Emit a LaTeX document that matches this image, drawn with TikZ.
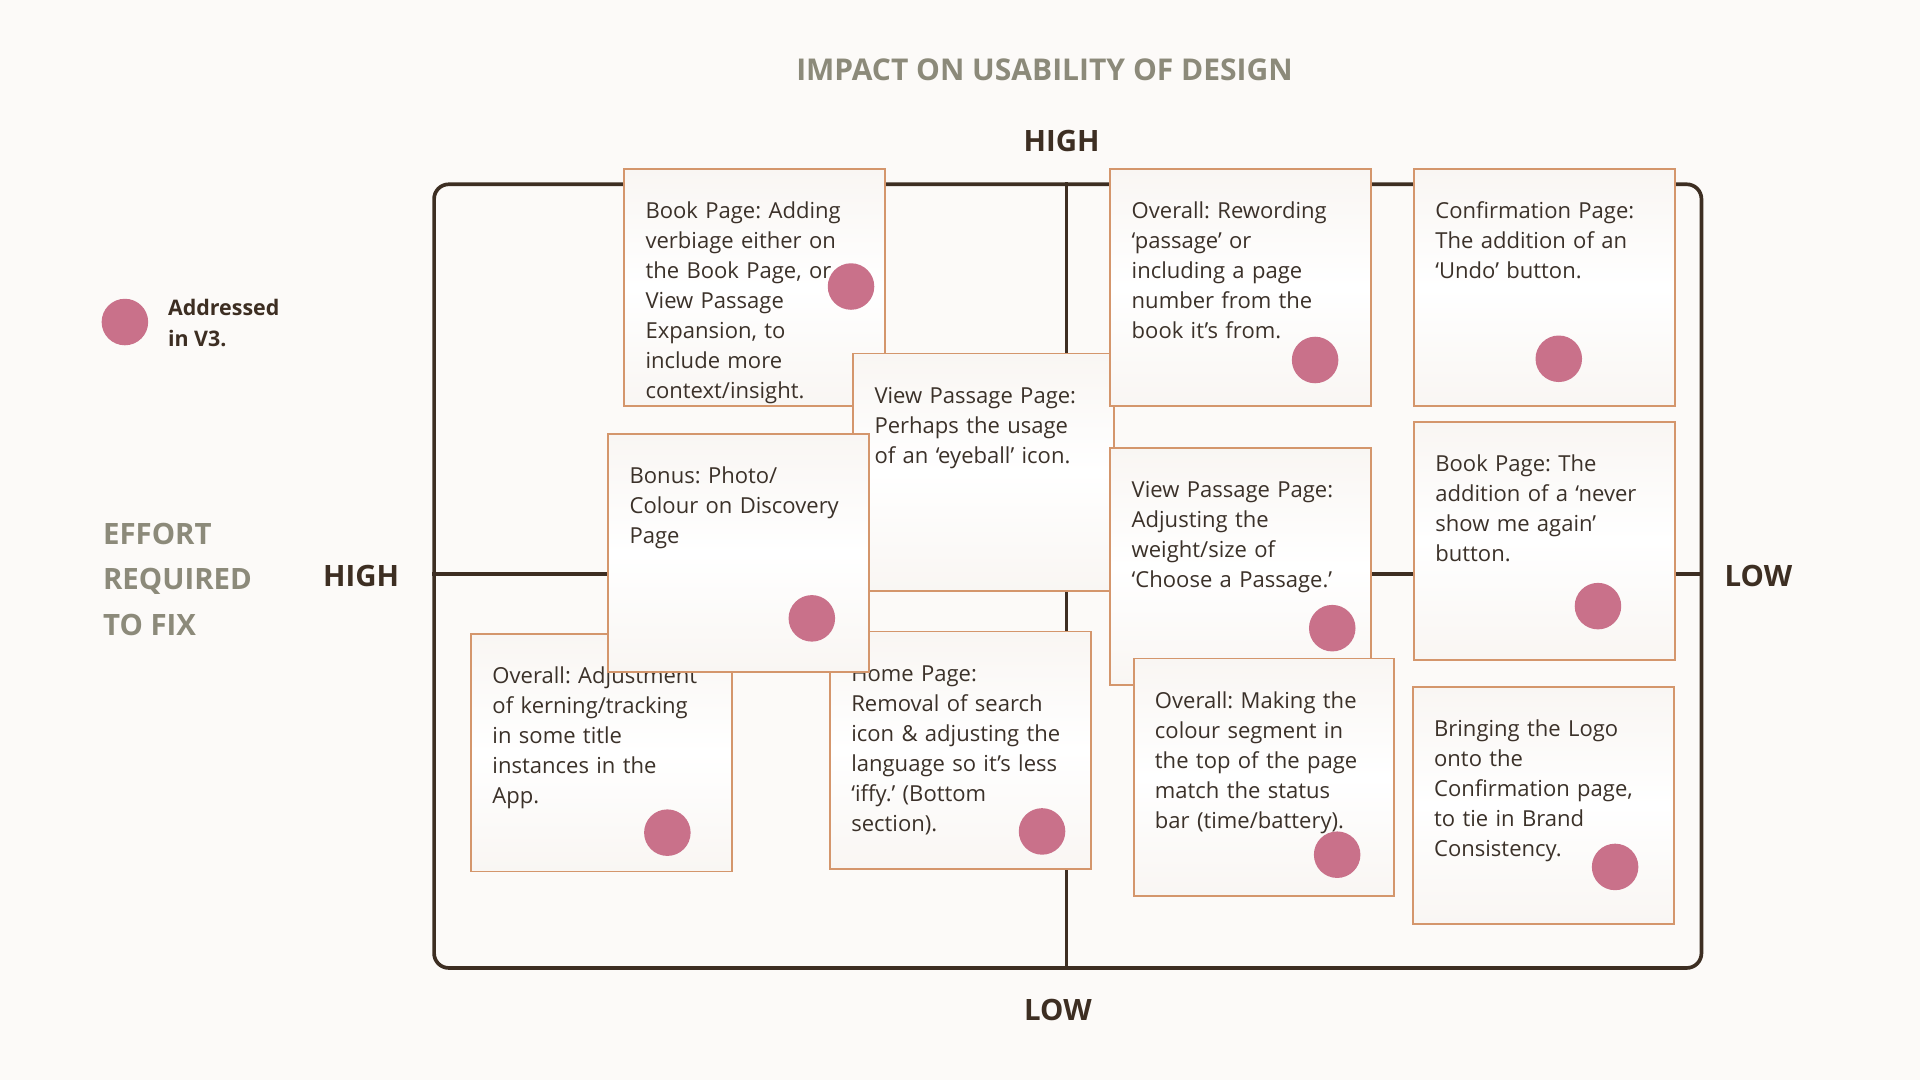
\documentclass[tikz,border=0pt]{standalone}
\usepackage{fontspec}
\setmainfont{Open Sans}
\frenchspacing
\definecolor{bg}{HTML}{FCFAF8}
\definecolor{ttl}{HTML}{8C8A7A}
\definecolor{dk}{HTML}{3D2E22}
\definecolor{cbd}{HTML}{D4966C}
\definecolor{dotc}{HTML}{C9718A}
\definecolor{txt}{HTML}{3B3129}
\definecolor{cshade}{HTML}{F9F6F3}
\tikzset{
  cardbox/.style={draw=cbd, line width=1.5pt, top color=cshade, bottom color=cshade, middle color=white,
    minimum width=213pt, minimum height=194pt, inner sep=0pt, anchor=north west},
  cardtext/.style={anchor=north west, inner sep=0pt, text width=195pt, align=left, text=txt,
    font=\fontsize{18}{24.5}\selectfont},
  adot/.style={circle, fill=dotc, minimum size=38pt, inner sep=0pt},
  axislbl/.style={font=\fontsize{24}{28}\selectfont\bfseries, text=dk, inner sep=0pt},
  frame/.style={draw=dk, line width=3pt},
}
\newcommand\qcard[5]{%
  \node[cardbox] (#1) at (#2,#3) {};
  \node[cardtext] (#1t) at ([xshift=18pt,yshift=-27pt]#1.north west) {\rule{0pt}{14pt}#4};
  \ifx\relax#5\relax\else\node[adot] (#1d) at #5 {};\fi
}
\begin{document}
\begin{tikzpicture}[x=1pt,y=-1pt]
\fill[bg] (0,0) rectangle (1568,882);
\useasboundingbox (0,0) rectangle (1568,882);
% title
\node[font=\fontsize{24.5}{28}\selectfont\bfseries, text=ttl, inner sep=0pt] (title) at (853,57) {IMPACT ON USABILITY OF DESIGN};
% frame
\node[frame, rounded corners=12pt, minimum width=1035pt, minimum height=640pt, anchor=north west, inner sep=0pt, fill=bg] (fr) at (353,149) {};
\coordinate (vt) at (871,149);
\coordinate (vb) at (871,789);
\coordinate (hl) at (353,469);
\coordinate (hr) at (1388,469);
\draw[frame] (vt) -- (vb);
\draw[frame] (hl) -- (hr);
% axis labels
\node[axislbl] (hightop) at (867,115) {HIGH};
\node[axislbl] (highleft) at (295,470) {HIGH};
\node[axislbl] (lowright) at (1436,470) {LOW};
\node[axislbl] (lowbot) at (864,825) {LOW};
\node[font=\fontsize{24}{37}\selectfont\bfseries, text=ttl, inner sep=0pt, align=left, anchor=west] (effort) at (84,473) {EFFORT\\REQUIRED\\TO FIX};
% legend
\node[adot] (legdot) at (102,263) {};
\node[font=\fontsize{17.5}{25}\selectfont\bfseries, text=dk, inner sep=0pt, align=left, anchor=west] (legtxt) at (137,264) {Addressed\\in V3.};
% cards
\qcard{c1}{509}{137}{Book Page: Adding\\verbiage either on\\the Book Page, or\\View Passage\\Expansion, to\\include more\\context/insight.}{(695,234)}
\qcard{c2}{696}{288}{View Passage Page:\\Perhaps the usage\\of an ‘eyeball’ icon.}{}
\qcard{c3}{906}{137}{Overall: Rewording\\‘passage’ or\\including a page\\number from the\\book it’s from.}{(1074,294)}
\qcard{c4}{1154}{137}{Confirmation Page:\\The addition of an\\‘Undo’ button.}{(1273,293)}
\qcard{c6}{906}{365}{View Passage Page:\\Adjusting the\\weight/size of\\‘Choose a Passage.’}{(1088,513)}
\qcard{c7}{1154}{344}{Book Page: The\\addition of a ‘never\\show me again’\\button.}{(1305,495)}
\qcard{c8}{384}{517}{Overall: Adjustment\\of kerning/tracking\\in some title\\instances in the\\App.}{(545,680)}
\qcard{c9}{677}{515}{Home Page:\\Removal of search\\icon \& adjusting the\\language so it’s less\\‘iffy.’ (Bottom\\section).}{(851,679)}
\qcard{c5}{496}{354}{Bonus: Photo/\\Colour on Discovery\\Page}{(663,505)}
\qcard{c10}{925}{537}{Overall: Making the\\colour segment in\\the top of the page\\match the status\\bar (time/battery).}{(1092,698)}
\qcard{c11}{1153}{560}{Bringing the Logo\\onto the\\Confirmation page,\\to tie in Brand\\Consistency.}{(1319,708)}
\end{tikzpicture}
\end{document}
